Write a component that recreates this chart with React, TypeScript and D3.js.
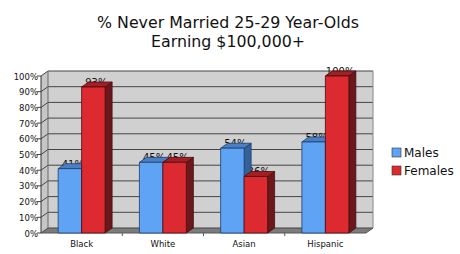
import React from 'react';
import * as d3 from 'd3';

const categories = ['Black', 'White', 'Asian', 'Hispanic'];
const seriesNames = ['Males', 'Females'];
const males = [41, 45, 54, 58];
const females = [93, 45, 36, 100];
const yTicks = [0, 10, 20, 30, 40, 50, 60, 70, 80, 90, 100];

const W = 460;
const H = 254;
const left = 41;
const right = 366;
const bottom = 233;
const top = 76;
const dx = 7;
const dy = -5;

const colors = {
  Males: { front: '#5fa3f4', top: '#4a7fc4', side: '#35619a', stroke: '#1d3d6a' },
  Females: { front: '#dd2a30', top: '#a31f24', side: '#6a181b', stroke: '#4a0d10' },
};

export default function App() {
  const x = d3.scaleBand().domain(categories).range([left, right]).paddingInner(0).paddingOuter(0);
  const inner = d3.scaleBand().domain(seriesNames).range([0, x.bandwidth()]).paddingInner(0).paddingOuter(0.73);
  const y = d3.scaleLinear().domain([0, 100]).range([bottom, top]);

  const values = { Males: males, Females: females };
  const font = 'DejaVu Sans, Verdana, sans-serif';

  return (
    <svg width={W} height={H} style={{ position: 'absolute', left: 0, top: 0, background: '#fff' }} fontFamily={font}>
      {/* title */}
      <text x={228} y={28} textAnchor="middle" fontSize={15.8} fill="#111">% Never Married 25-29 Year-Olds</text>
      <text x={228} y={47} textAnchor="middle" fontSize={15.8} fill="#111">Earning $100,000+</text>

      {/* walls */}
      <polygon points={`${left},${y(100)} ${left + dx},${y(100) + dy} ${left + dx},${bottom + dy} ${left},${bottom}`} fill="#c6c6c6" />
      <rect x={left + dx} y={y(100) + dy} width={right - left} height={bottom - y(100)} fill="#d0d0d0" />
      <polygon points={`${left},${bottom} ${right},${bottom} ${right + dx},${bottom + dy} ${left + dx},${bottom + dy}`} fill="#7c7c7c" />

      {/* grid lines */}
      {yTicks.map(t => (
        <g key={t}>
          <polyline
            points={`${left},${y(t)} ${left + dx},${y(t) + dy} ${right + dx},${y(t) + dy}`}
            fill="none" stroke="#454545" strokeWidth={1} />
          <line x1={left - 4} x2={left} y1={y(t)} y2={y(t)} stroke="#454545" />
          <text x={left - 3} y={y(t) + 3.5} textAnchor="end" fontSize={8.5} fill="#111">{t}%</text>
        </g>
      ))}
      <line x1={left + dx} x2={left + dx} y1={y(100) + dy} y2={bottom + dy} stroke="#666" />
      <line x1={right + dx} x2={right + dx} y1={y(100) + dy} y2={bottom + dy} stroke="#888" />
      <line x1={left} x2={left} y1={y(100)} y2={bottom} stroke="#333" />
      <line x1={left} x2={right} y1={bottom} y2={bottom} stroke="#555" />
      <line x1={right} x2={right + dx} y1={bottom} y2={bottom + dy} stroke="#555" />
      {categories.slice(1).map(c => (
        <line key={c} x1={x(c)} x2={x(c)} y1={bottom} y2={bottom + 3} stroke="#555" />
      ))}

      {/* value labels (behind the bars' top faces) */}
      {categories.map((c, i) => seriesNames.map(s => {
        const v = values[s][i];
        const cx = x(c) + inner(s) + inner.bandwidth() / 2 + 3;
        return (
          <text key={c + s} x={cx} y={y(v) - 1} textAnchor="middle" fontSize={10} fill="#111">{v}%</text>
        );
      }))}

      {/* bars */}
      {categories.map((c, i) => seriesNames.map(s => {
        const v = values[s][i];
        const x0 = x(c) + inner(s);
        const x1 = x0 + inner.bandwidth();
        const yv = y(v);
        const col = colors[s];
        return (
          <g key={c + s} stroke={col.stroke} strokeWidth={0.8} strokeLinejoin="round">
            <polygon points={`${x1},${yv} ${x1 + dx},${yv + dy} ${x1 + dx},${bottom + dy} ${x1},${bottom}`} fill={col.side} />
            <polygon points={`${x0},${yv} ${x0 + dx},${yv + dy} ${x1 + dx},${yv + dy} ${x1},${yv}`} fill={col.top} />
            <rect x={x0} y={yv} width={x1 - x0} height={bottom - yv} fill={col.front} />
          </g>
        );
      }))}

      {/* category labels */}
      {categories.map(c => (
        <text key={c} x={x(c) + x.bandwidth() / 2} y={247} textAnchor="middle" fontSize={8.5} fill="#111">{c}</text>
      ))}

      {/* legend */}
      {seriesNames.map((s, i) => (
        <g key={s} transform={`translate(392,${148 + i * 18})`}>
          <rect x={0} y={0} width={9} height={9} fill={colors[s].front} stroke="#333" strokeWidth={0.6} />
          <text x={12} y={9} fontSize={12} fill="#111">{s}</text>
        </g>
      ))}
    </svg>
  );
}
